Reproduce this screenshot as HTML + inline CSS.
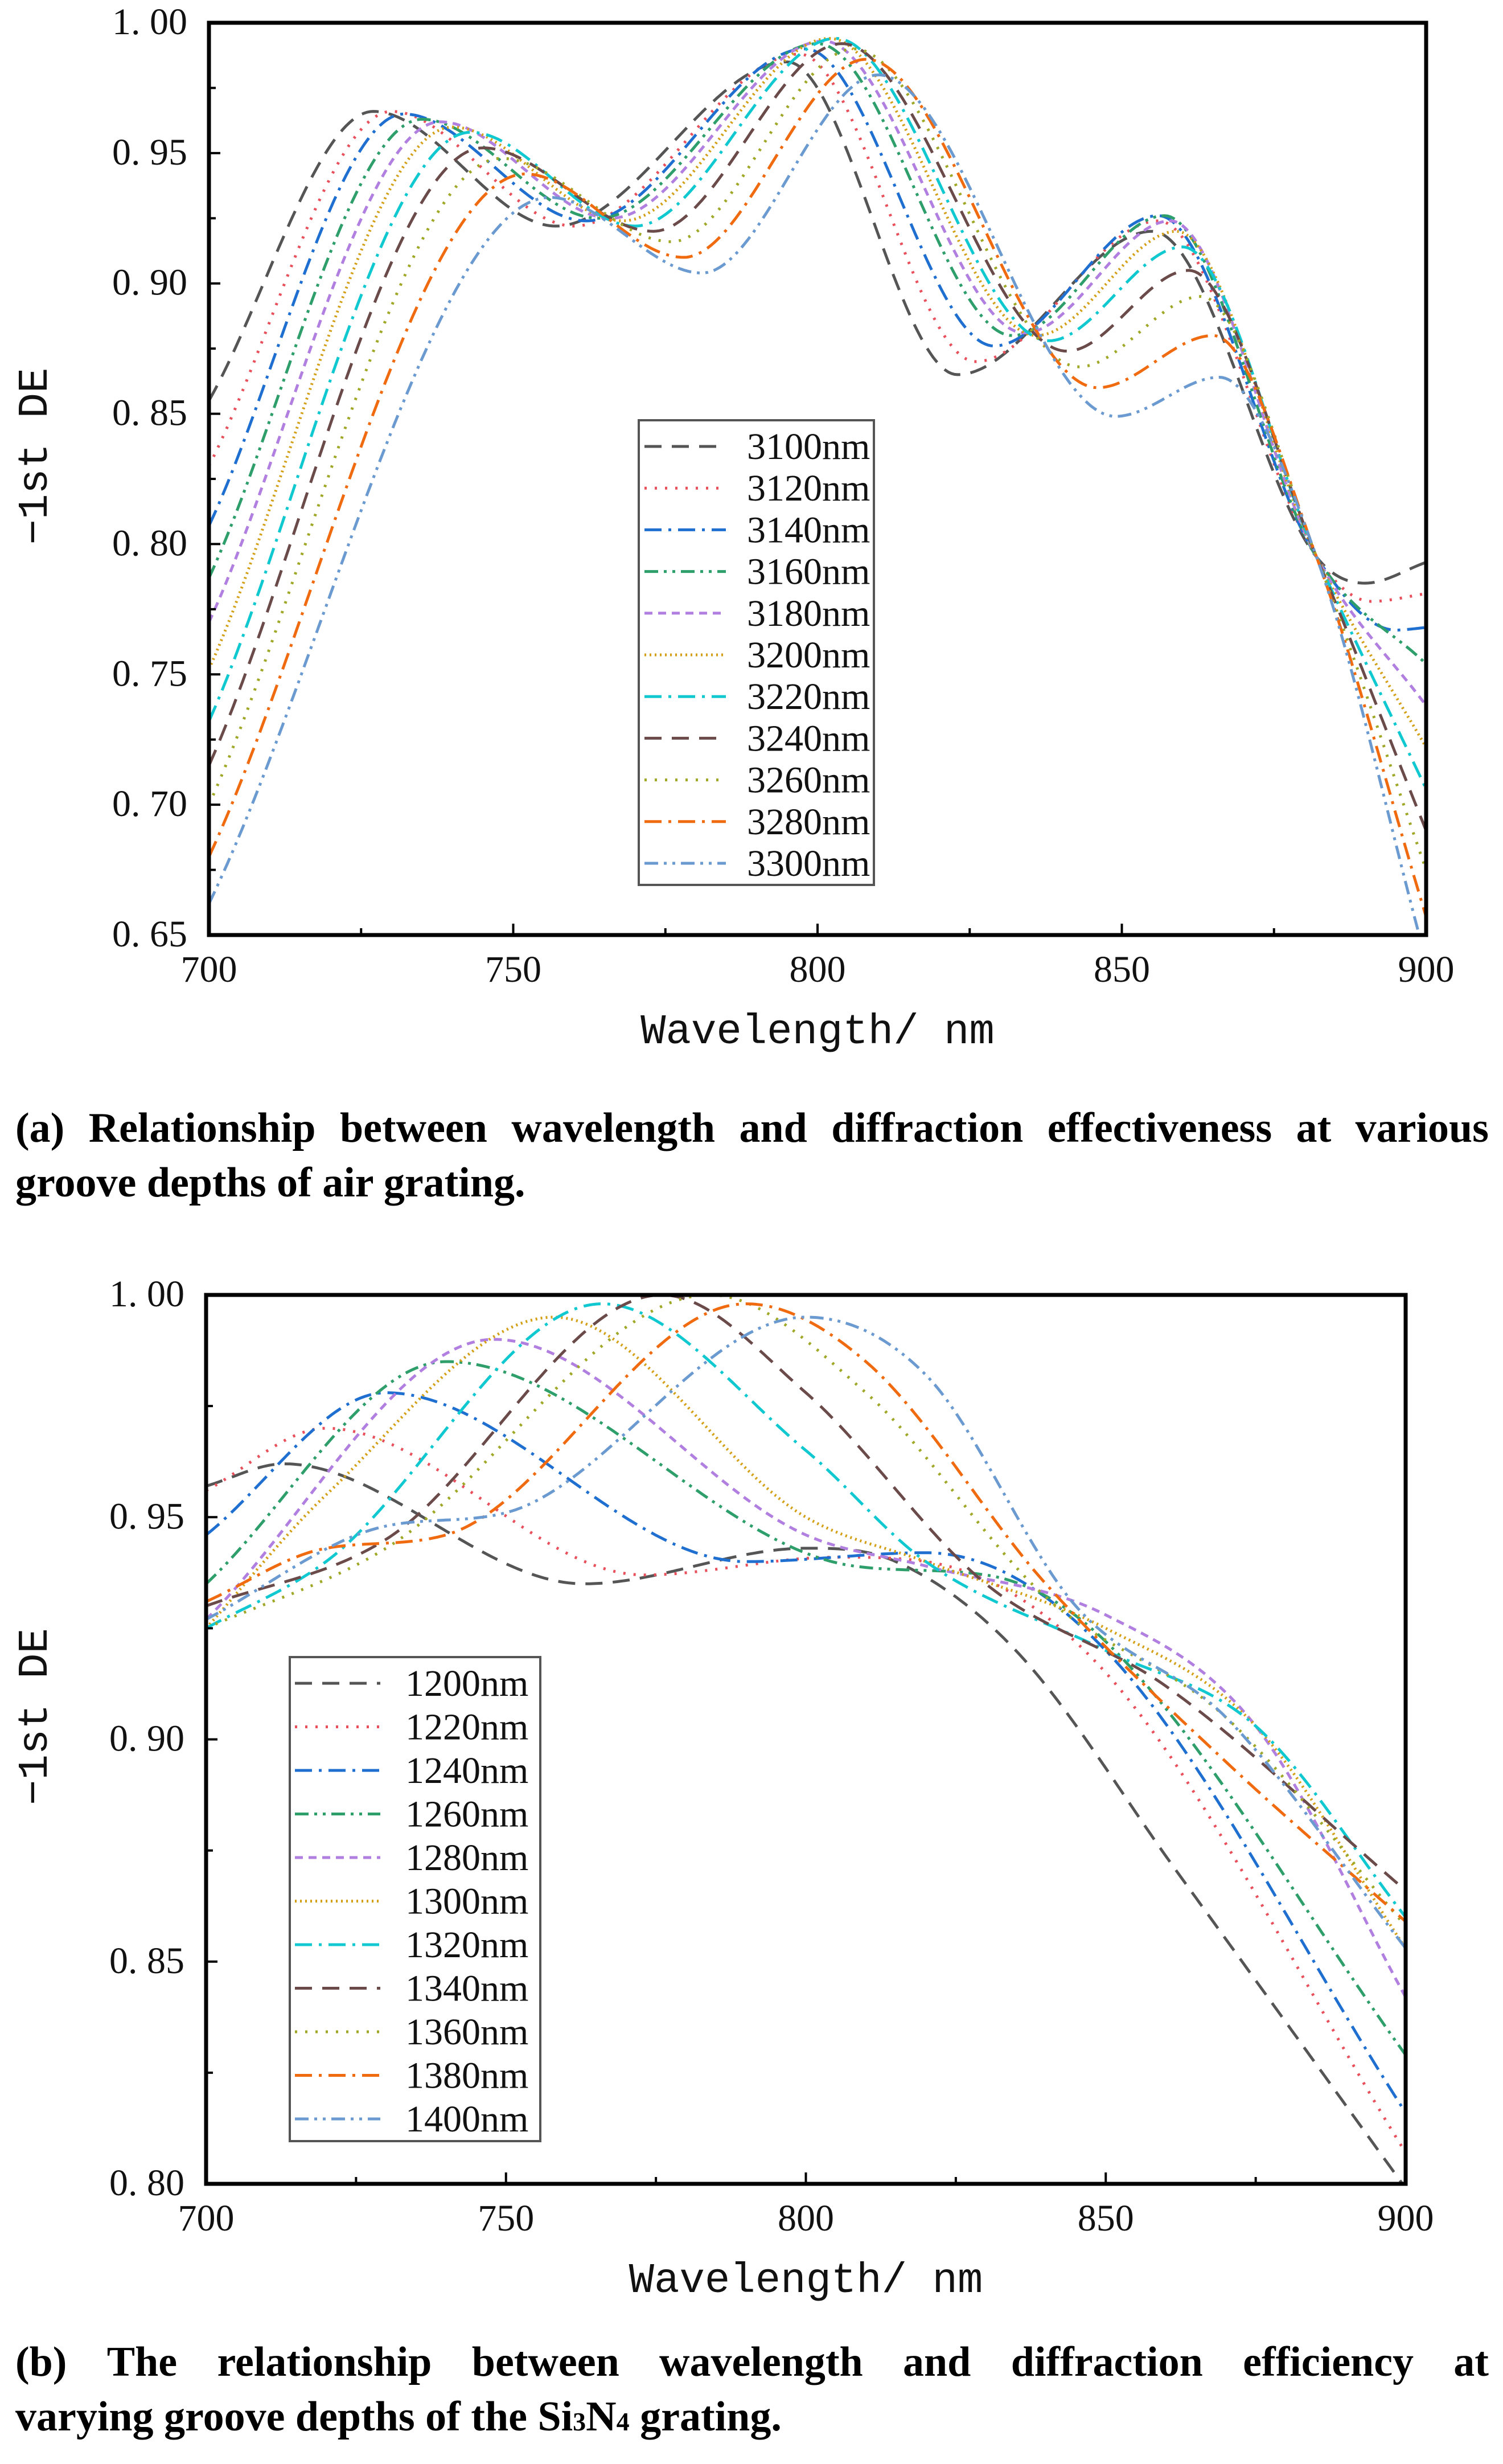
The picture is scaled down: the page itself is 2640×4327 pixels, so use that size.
<!DOCTYPE html>
<html><head><meta charset="utf-8"><style>
html,body{margin:0;padding:0;background:#fff;}
svg{display:block;}
</style></head><body>
<svg id="fig" width="2640" height="4327" xmlns="http://www.w3.org/2000/svg">
<rect width="2640" height="4327" fill="#fff"/>
<text id="capA1" x="27" y="2005" font-family="Liberation Serif, serif" font-weight="bold" font-size="74">(a) Relationship between wavelength and diffraction effectiveness at various</text>
<text x="27" y="2101" font-family="Liberation Serif, serif" font-weight="bold" font-size="74">groove depths of air grating.</text>
<text id="capB1" x="27" y="4172" font-family="Liberation Serif, serif" font-weight="bold" font-size="74">(b) The relationship between wavelength and diffraction efficiency at</text>
<text x="27" y="4268" font-family="Liberation Serif, serif" font-weight="bold" font-size="74">varying groove depths of the Si<tspan font-size="46">3</tspan>N<tspan font-size="46">4</tspan> grating.</text>
</svg>
<script>
// ---------- chart (a) data ----------
const aLabels = ["3100nm","3120nm","3140nm","3160nm","3180nm","3200nm","3220nm","3240nm","3260nm","3280nm","3300nm"];
const aX = [
 [700,727,757,795,823,855,882,890,900],
 [700,730,760,797,826,856,882,891,900],
 [700,732,762,798,829,856,882,895,900],
 [700,735,764,800,832,857,882,900],
 [700,738,766,801,834,858,882,900],
 [700,740,768,802,836,859,882,900],
 [700,743,770,803,838,860,882,900],
 [700,745,773,804,841,861,882,900],
 [700,748,776,806,843,863,882,900],
 [700,752,778,808,846,865,882,900],
 [700,756,781,810,849,866,882,900]];
const aY = [
 [0.855,0.966,0.922,0.985,0.865,0.920,0.795,0.785,0.793],
 [0.830,0.966,0.922,0.988,0.870,0.924,0.795,0.778,0.781],
 [0.807,0.965,0.924,0.990,0.876,0.926,0.795,0.767,0.768],
 [0.787,0.963,0.925,0.992,0.880,0.926,0.795,0.754],
 [0.770,0.962,0.925,0.993,0.881,0.924,0.795,0.738],
 [0.752,0.960,0.924,0.994,0.880,0.920,0.795,0.722],
 [0.732,0.958,0.922,0.994,0.878,0.914,0.795,0.706],
 [0.715,0.952,0.920,0.992,0.874,0.905,0.795,0.690],
 [0.700,0.948,0.916,0.990,0.868,0.895,0.795,0.675],
 [0.680,0.942,0.910,0.986,0.860,0.880,0.795,0.657],
 [0.662,0.933,0.904,0.980,0.849,0.864,0.795,0.640]];
const aYTicks = ["0.65","0.70","0.75","0.80","0.85","0.90","0.95","1.00"];
// ---------- chart (b) data ----------
const bLabels = ["1200nm","1220nm","1240nm","1260nm","1280nm","1300nm","1320nm","1340nm","1360nm","1380nm","1400nm"];
const bX = [
 [700,713,763,800,815,835,862,900],
 [700,720,773,805,820,850,900],
 [700,730,790,820,850,900],
 [700,740,808,830,850,900],
 [700,748,800,820,850,875,900],
 [700,720,758,800,820,850,875,900],
 [700,720,766,800,820,850,875,900],
 [700,730,776,800,830,860,900],
 [700,730,784,810,840,870,900],
 [700,720,740,790,810,840,870,900],
 [700,730,750,800,820,845,870,900]];
const bY = [
 [0.957,0.962,0.935,0.943,0.940,0.920,0.870,0.799],
 [0.956,0.970,0.937,0.941,0.940,0.915,0.807],
 [0.946,0.978,0.940,0.942,0.920,0.816],
 [0.935,0.985,0.939,0.937,0.922,0.829],
 [0.927,0.990,0.946,0.939,0.928,0.903,0.842],
 [0.925,0.955,0.995,0.950,0.940,0.925,0.903,0.853],
 [0.925,0.940,0.998,0.965,0.940,0.920,0.903,0.860],
 [0.930,0.945,1.000,0.978,0.935,0.912,0.866],
 [0.925,0.943,1.000,0.978,0.932,0.905,0.858],
 [0.931,0.943,0.946,0.998,0.985,0.935,0.895,0.859],
 [0.927,0.948,0.951,0.995,0.982,0.930,0.905,0.853]];
const bYTicks = ["0.80","0.85","0.90","0.95","1.00"];
const xTicks = ["700","750","800","850","900"];

const colors = ["#555555","#e8505b","#1f6fd0","#2e9e6b","#b07fe0","#d4a017","#10c8d0","#6b4a4a","#a0a828","#f06a10","#6a9ad0"];
const dashes = ["30,18","4,14","30,12,5,12","24,10,5,10,5,10","14,10","3,6","30,12,5,12","30,18","4,14","30,12,5,12","24,10,5,10,5,10"];

const NS="http://www.w3.org/2000/svg";
const svg=document.getElementById('fig');
function mk(tag,attrs,parent){const e=document.createElementNS(NS,tag);for(const k in attrs)e.setAttribute(k,attrs[k]);(parent||svg).appendChild(e);return e;}

// justify caption first lines by word spacing
function justify(id,left,right){
  const t=document.getElementById(id);const words=t.textContent.split(' ');
  t.textContent='';
  const spans=words.map(w=>{const s=document.createElementNS(NS,'tspan');s.textContent=w;t.appendChild(s);return s;});
  const widths=spans.map(s=>s.getComputedTextLength());
  const total=widths.reduce((a,b)=>a+b,0);
  const gap=(right-left-total)/(words.length-1);
  let x=left;
  spans.forEach((s,i)=>{s.setAttribute('x',x.toFixed(1));x+=widths[i]+gap;});
}
justify('capA1',27,2615);
justify('capB1',27,2615);

function monotone(xs,ys){
  const n=xs.length,d=[],m=[];
  for(let i=0;i<n-1;i++)d.push((ys[i+1]-ys[i])/(xs[i+1]-xs[i]));
  m[0]=d[0];m[n-1]=d[n-2];
  for(let i=1;i<n-1;i++){ if(d[i-1]*d[i]<=0)m[i]=0; else m[i]=(d[i-1]+d[i])/2; }
  for(let i=0;i<n-1;i++){ if(d[i]===0){m[i]=0;m[i+1]=0;continue;} const a=m[i]/d[i],b=m[i+1]/d[i],s=a*a+b*b; if(s>9){const t=3/Math.sqrt(s);m[i]=t*a*d[i];m[i+1]=t*b*d[i];} }
  return function(x){let i=0;while(i<n-2&&x>xs[i+1])i++;const h=xs[i+1]-xs[i],t=(x-xs[i])/h,t2=t*t,t3=t2*t;
    return (2*t3-3*t2+1)*ys[i]+(t3-2*t2+t)*h*m[i]+(-2*t3+3*t2)*ys[i+1]+(t3-t2)*h*m[i+1];};
}

function chart(id,L,R,T,B,ymin,ymax,yTicks,X,Y,labels,leg){
  const sx=v=>L+(v-700)/(200)*(R-L), sy=v=>B-(v-ymin)/(ymax-ymin)*(B-T);
  const g=mk('g',{});
  
  
  const cp=mk('clipPath',{id:id+'clip'},g);
  mk('rect',{x:L,y:T,width:R-L,height:B-T},cp);
  const sg=mk('g',{'clip-path':'url(#'+id+'clip)'},g);
  for(let s=0;s<X.length;s++){
    const f=monotone(X[s],Y[s]);let d='';
    for(let x=700;x<=900;x+=0.5){d+=(x===700?'M':'L')+sx(x).toFixed(1)+','+sy(f(x)).toFixed(1);}
    const p=mk('path',{d:d,fill:'none',stroke:colors[s],'stroke-width':5,'stroke-dasharray':dashes[s],'stroke-linecap':'butt'},sg);
    
    
  }
  const fr=mk('rect',{x:L,y:T,width:R-L,height:B-T,fill:'none',stroke:'#000','stroke-width':7},g);
  
  
  for(let i=0;i<=8;i++){const v=700+i*25,x=sx(v);mk('line',{x1:x,x2:x,y1:B,y2:B-(i%2?12:20),stroke:'#000','stroke-width':4},g);}
  xTicks.forEach(t=>{const tx=mk('text',{x:sx(+t),y:B+82,'text-anchor':'middle','font-family':'Liberation Serif, serif','font-size':66,fill:'#111'},g);tx.textContent=t;
    
    });
  const step=0.05;
  for(let v=ymin;v<=ymax+1e-9;v+=step/2){const y=sy(v);mk('line',{x1:L,x2:L+(Math.round((v-ymin)/(step/2))%2?12:20),y1:y,y2:y,stroke:'#000','stroke-width':4},g);}
  yTicks.forEach(t=>{const ty=mk('text',{x:L-38,y:sy(+t)+20,'text-anchor':'end','font-family':'Liberation Serif, serif','font-size':66,fill:'#111'},g);ty.textContent=t.replace('.','. ');
    
    });
  const xt=mk('text',{x:(L+R)/2,y:B+190,'text-anchor':'middle','font-family':'Liberation Mono, monospace','font-size':74,fill:'#111'},g);xt.textContent='Wavelength/ nm';
  
  
  const cy=(T+B)/2-40;
  const yt=mk('text',{x:0,y:0,transform:'translate(82,'+(cy)+') rotate(-90)','text-anchor':'middle','font-family':'Liberation Mono, monospace','font-size':74,fill:'#111'},g);yt.textContent='\u22121st DE';
  
  
  const lg=mk('g',{},g);
  
  
  mk('rect',{x:leg.x,y:leg.y,width:leg.w,height:leg.h,fill:'#fff',stroke:'#555','stroke-width':4},lg);
  labels.forEach((lab,i)=>{const y=leg.y0+i*leg.dy;
    const ln=mk('line',{x1:leg.l1,x2:leg.l2,y1:y,y2:y,stroke:colors[i],'stroke-width':5,'stroke-dasharray':dashes[i]},lg);
    
    
    const t=mk('text',{x:leg.tx,y:y+22,'font-family':'Liberation Serif, serif','font-size':66,fill:'#111'},lg);t.textContent=lab;
    
    });
}
chart('chart-a',367,2505,40,1642,0.65,1.00,aYTicks,aX,aY,aLabels,{x:1122,y:738,w:413,h:816,y0:784,dy:73.2,l1:1132,l2:1275,tx:1312});
chart('chart-b',362,2469,2274,3835,0.80,1.00,bYTicks,bX,bY,bLabels,{x:509,y:2910,w:440,h:850,y0:2956,dy:76.5,l1:518,l2:668,tx:712});
</script>
</body></html>
